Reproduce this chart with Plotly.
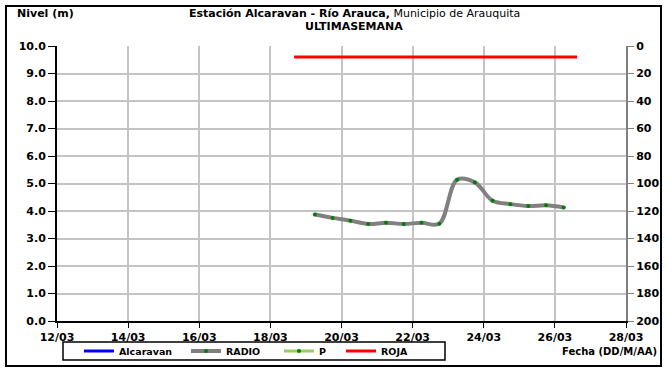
import plotly.graph_objects as go

# ---- data ----
radio_dates = ["2024-03-19 06:00", "2024-03-19 18:00", "2024-03-20 06:00", "2024-03-20 18:00",
               "2024-03-21 06:00", "2024-03-21 18:00", "2024-03-22 06:00", "2024-03-22 18:00",
               "2024-03-23 06:00", "2024-03-23 18:00", "2024-03-24 06:00", "2024-03-24 18:00",
               "2024-03-25 06:00", "2024-03-25 18:00", "2024-03-26 06:00"]
radio_vals = [3.87, 3.75, 3.65, 3.53, 3.57, 3.53, 3.57, 3.54, 5.14, 5.04, 4.37, 4.25, 4.18, 4.21, 4.13]

roja_dates = ["2024-03-18 16:00", "2024-03-26 15:00"]
roja_vals = [9.6, 9.6]

# series with no visible values in the chart (legend only)
alcaravan_dates = ["2024-03-19 06:00"]
alcaravan_vals = [None]
p_dates = ["2024-03-19 06:00"]
p_vals = [None]

x_range = ["2024-03-12", "2024-03-28"]
y_range = [0, 10]
y2_range = [200, 0]

# ---- layout helpers (pixel -> paper) ----
W, H = 666, 370
L, R, T, B = 57, 626, 46, 321
def px(x):
    return (x - L) / (R - L)
def py(y):
    return (B - y) / (B - T)

FONT = "DejaVu Sans, Verdana, sans-serif"
BOLD = dict(family=FONT, weight="bold", color="#000000")

fig = go.Figure()
fig.add_trace(go.Scatter(x=alcaravan_dates, y=alcaravan_vals, name="Alcaravan", mode="lines",
                         line=dict(color="#0000ff", width=3), legend="legend"))
fig.add_trace(go.Scatter(x=radio_dates, y=radio_vals, name="RADIO", mode="lines+markers",
                         line=dict(color="#808080", width=4, shape="spline", smoothing=1.0),
                         marker=dict(color="#008000", size=4), legend="legend2"))
fig.add_trace(go.Scatter(x=p_dates, y=p_vals, name="P", mode="lines+markers", yaxis="y2",
                         line=dict(color="#99cc66", width=3),
                         marker=dict(color="#008000", size=4), legend="legend3"))
fig.add_trace(go.Scatter(x=roja_dates, y=roja_vals, name="ROJA", mode="lines",
                         line=dict(color="#ff0000", width=3), legend="legend4"))

tickfont = dict(BOLD, size=11)
legfont = dict(BOLD, size=9.5)

def leg(xpix):
    return dict(orientation="h", x=px(xpix), y=py(351), xanchor="left", yanchor="middle",
                itemwidth=30, font=legfont, bgcolor="rgba(0,0,0,0)", borderwidth=0)

fig.update_layout(
    width=W, height=H,
    margin=dict(l=L, r=W - R, t=T, b=H - B, pad=0, autoexpand=False),
    paper_bgcolor="white", plot_bgcolor="white",
    font=dict(family=FONT, color="#000000"),
    showlegend=True,
    hovermode=False,
    xaxis=dict(type="date", range=x_range, dtick=2 * 86400000, tick0="2024-03-12",
               tickformat="%d/%m", tickfont=tickfont,
               showgrid=True, gridcolor="#c4c4c4", gridwidth=1.5,
               showline=True, linecolor="#000000", linewidth=2,
               ticks="outside", ticklen=5, tickcolor="#000000", zeroline=False),
    yaxis=dict(range=y_range, dtick=1, tickformat=".1f", tickfont=tickfont,
               showgrid=True, gridcolor="#c4c4c4", gridwidth=1.5,
               showline=True, linecolor="#000000", linewidth=2,
               ticks="outside", ticklen=7, tickcolor="#000000", zeroline=False),
    yaxis2=dict(range=y2_range, dtick=20, overlaying="y", side="right", tickfont=tickfont,
                showgrid=False, showline=True, linecolor="#808080", linewidth=2,
                ticks="outside", ticklen=6, tickcolor="#808080", zeroline=False),
    legend=leg(79),
    legend2=leg(186),
    legend3=leg(279),
    legend4=leg(341),
    shapes=[
        dict(type="rect", xref="paper", yref="paper", x0=px(63), x1=px(445), y0=py(342), y1=py(360),
             line=dict(color="#000000", width=1.5)),
        dict(type="rect", xref="paper", yref="paper", x0=px(6), x1=px(661), y0=py(6), y1=py(366),
             line=dict(color="#000000", width=2)),
    ],
    annotations=[
        dict(text="<b>Estación Alcaravan - Río Arauca,</b> Municipio de Arauquita",
             xref="paper", yref="paper", x=px(354), y=py(14), xanchor="center", yanchor="middle",
             showarrow=False, font=dict(family=FONT, size=11, color="#000000")),
        dict(text="<b>ULTIMASEMANA</b>",
             xref="paper", yref="paper", x=px(354), y=py(26.5), xanchor="center", yanchor="middle",
             showarrow=False, font=dict(family=FONT, size=11, color="#000000")),
        dict(text="<b>Nivel (m)</b>", xref="paper", yref="paper", x=px(15), y=py(14),
             xanchor="left", yanchor="middle", showarrow=False, font=dict(family=FONT, size=11)),
        dict(text="<b>Fecha (DD/M/AA)</b>", xref="paper", yref="paper", x=px(659), y=py(351),
             xanchor="right", yanchor="middle", showarrow=False, font=dict(family=FONT, size=10)),
    ],
)

fig.write_html("out.html", config={"displayModeBar": False},
               post_script="document.body.style.margin='0';document.body.style.overflow='hidden';")
